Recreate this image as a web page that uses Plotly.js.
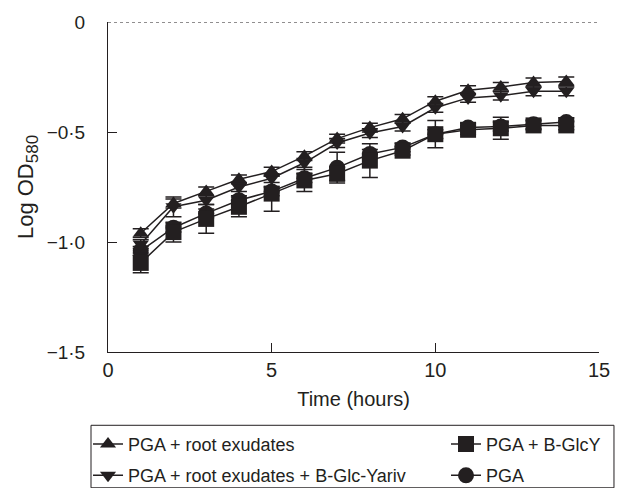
<!DOCTYPE html>
<html>
<head>
<meta charset="utf-8">
<script src="https://cdn.plot.ly/plotly-3.0.1.min.js"></script>
<style>html,body{margin:0;padding:0;background:#fff;}#chart{width:619px;height:488px;}</style>
</head>
<body>
<div id="chart"></div>
<script>
// Data
var hours = [1, 2, 3, 4, 5, 6, 7, 8, 9, 10, 11, 12, 13, 14];

var rootExudates = [-0.96, -0.825, -0.77, -0.715, -0.68, -0.61, -0.53, -0.48, -0.44, -0.36, -0.31, -0.295, -0.275, -0.27];
var rootExudatesErr = [0.02, 0.02, 0.02, 0.02, 0.02, 0.02, 0.02, 0.02, 0.02, 0.02, 0.02, 0.02, 0.02, 0.02];

var rootExudatesYariv = [-1.01, -0.84, -0.81, -0.75, -0.71, -0.64, -0.55, -0.505, -0.475, -0.39, -0.345, -0.335, -0.315, -0.315];
var rootExudatesYarivErr = [0.02, 0.045, 0.02, 0.02, 0.02, 0.02, 0.02, 0.02, 0.02, 0.02, 0.02, 0.02, 0.02, 0.02];

var bGlcY = [-1.095, -0.955, -0.895, -0.84, -0.78, -0.72, -0.69, -0.63, -0.585, -0.51, -0.49, -0.483, -0.47, -0.47];
var bGlcYErr = [0.045, 0.045, 0.065, 0.045, 0.08, 0.05, 0.03, 0.077, 0.02, 0.062, 0.02, 0.05, 0.02, 0.02];

var pga = [-1.04, -0.935, -0.87, -0.81, -0.77, -0.71, -0.662, -0.60, -0.57, -0.51, -0.48, -0.475, -0.465, -0.455];
var pgaErr = [0.02, 0.02, 0.02, 0.02, 0.02, 0.02, 0.07, 0.02, 0.02, 0.02, 0.02, 0.02, 0.02, 0.02];

var seriesNames = ['PGA + root exudates', 'PGA + root exudates + B-Glc-Yariv', 'PGA + B-GlcY', 'PGA'];

var yTickVals = [0, -0.5, -1.0, -1.5];
var yTickText = ['0', '\u22120\u00b75', '\u22121\u00b70', '\u22121\u00b75'];
var xTickVals = [0, 5, 10, 15];

var INK = '#231f20';
var FONT = '"Liberation Sans", Arial, Helvetica, sans-serif';
var FS = 18;

function makeTrace(y, err, name, symbol, size, legendId, rank) {
  return {
    x: hours, y: y, name: name, type: 'scatter', mode: 'lines+markers',
    legend: legendId, legendgroup: name, legendrank: rank,
    line: {color: INK, width: 1.5},
    marker: {symbol: symbol, size: size, color: INK, line: {width: 0}},
    error_y: {type: 'data', array: err, visible: true, color: INK, thickness: 1.5, width: 8}
  };
}

var data = [
  makeTrace(pga, pgaErr, seriesNames[3], 'circle', 16, 'legend2', 2),
  makeTrace(bGlcY, bGlcYErr, seriesNames[2], 'square', 16, 'legend2', 1),
  makeTrace(rootExudatesYariv, rootExudatesYarivErr, seriesNames[1], 'triangle-down', 14, 'legend', 2),
  makeTrace(rootExudates, rootExudatesErr, seriesNames[0], 'triangle-up', 14, 'legend', 1)
];

var legendCommon = {
  orientation: 'v', xanchor: 'left', yanchor: 'middle',
  xref: 'paper', yref: 'container',
  bgcolor: 'rgba(0,0,0,0)', borderwidth: 0,
  font: {family: FONT, size: FS, color: INK},
  tracegroupgap: 5, traceorder: 'grouped'
};

var layout = {
  width: 619, height: 488,
  margin: {l: 108, r: 20, t: 22, b: 136},
  paper_bgcolor: '#ffffff', plot_bgcolor: '#ffffff',
  font: {family: FONT, size: FS, color: INK},
  showlegend: true,
  legend: Object.assign({}, legendCommon, {x: -0.0407, y: 0.058}),
  legend2: Object.assign({}, legendCommon, {x: 0.6884, y: 0.058}),
  xaxis: {
    range: [0, 15], tickvals: xTickVals, ticks: 'inside', ticklen: 9, tickwidth: 1, tickcolor: INK,
    showline: true, linecolor: INK, linewidth: 1, showgrid: false, zeroline: false,
    automargin: false,
    tickfont: {family: FONT, size: 20, color: INK},
    title: {text: 'Time (hours)', font: {family: FONT, size: 20, color: INK}, standoff: 11}
  },
  yaxis: {
    range: [-1.5, 0], tickvals: yTickVals, ticktext: yTickText, ticks: 'inside', ticklen: 9, tickwidth: 1, tickcolor: INK,
    showline: true, linecolor: INK, linewidth: 1, showgrid: false, zeroline: false,
    automargin: false,
    ticklabelstandoff: 18,
    tickfont: {family: FONT, size: 19, color: INK},
    title: {text: 'Log OD<sub><span style="font-size:17px">580</span></sub>', font: {family: FONT, size: 22, color: INK}, standoff: 6}
  },
  shapes: [
    {type: 'line', xref: 'x', yref: 'y', x0: 0, x1: 15, y0: 0, y1: 0, line: {color: INK, width: 1, dash: 'dot'}},
    {type: 'rect', xref: 'paper', yref: 'paper', x0: -0.0346, x1: 1.0305, y0: -0.4115, y1: -0.2221,
     line: {color: INK, width: 1}, fillcolor: 'rgba(0,0,0,0)'}
  ]
};

Plotly.newPlot('chart', data, layout, {displayModeBar: false, staticPlot: true});
</script>
</body>
</html>
